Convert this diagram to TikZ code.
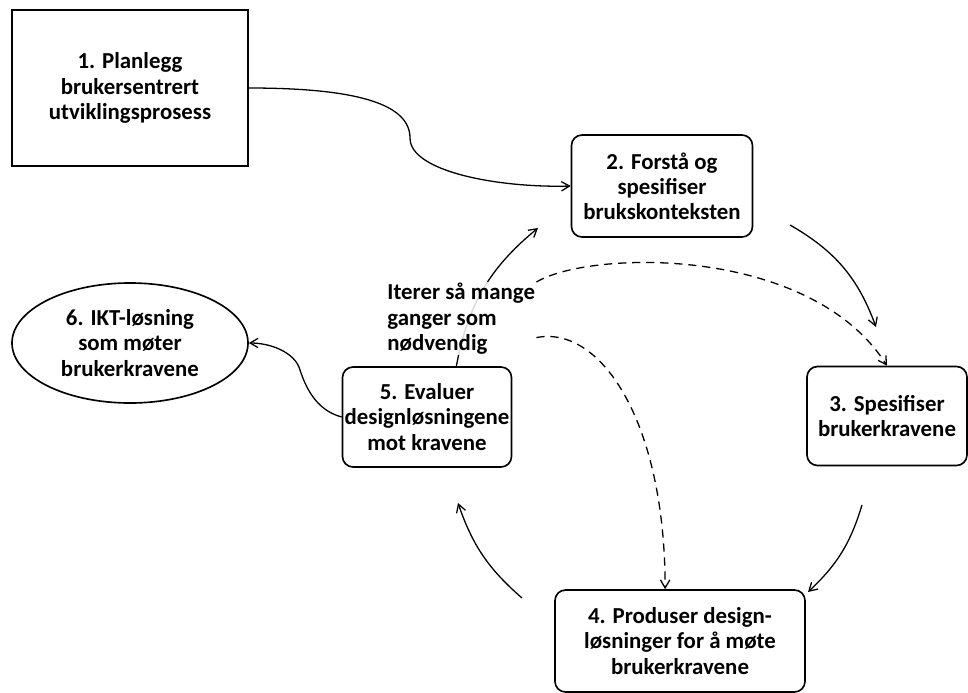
\documentclass[tikz,border=0pt]{standalone}
\usepackage{fontspec}
\setmainfont{Carlito}
\usetikzlibrary{arrows.meta,shapes.geometric}

\begin{document}
\begin{tikzpicture}[x=0.03cm,y=-0.03cm,
 font=\bfseries\fontsize{19.5}{21.5}\selectfont,
 planbox/.style={draw,line width=1.4pt,align=center,inner sep=0pt},
 phase/.style={draw,rounded corners=9pt,line width=1.4pt,align=center,inner sep=0pt},
 flow/.style={-{Straight Barb[length=2.4mm,width=2.8mm]},line width=1.1pt},
 iter/.style={flow,dash pattern=on 7pt off 5pt}]
\useasboundingbox (0,0) rectangle (968,693);
% phases of the cycle
\node[planbox,minimum width=7.08cm,minimum height=4.68cm] (plan) at (130,88) {1. Planlegg\\brukersentrert\\utviklingsprosess};
\node[phase,minimum width=5.43cm,minimum height=3.06cm] (ctx) at (662,186) {2. Forstå og\\spesifiser\\brukskonteksten};
\node[phase,minimum width=4.8cm,minimum height=2.97cm] (req) at (887,416) {3. Spesifiser\\brukerkravene};
\node[phase,minimum width=7.5cm,minimum height=3.06cm] (prod) at (680,641) {4. Produser design-\\løsninger for å møte\\brukerkravene};
\node[phase,minimum width=5.07cm,minimum height=3.0cm] (eval) at (427,417) {5. Evaluer\\designløsningene\\mot kravene};
\node[ellipse,draw,line width=1.4pt,minimum width=7.08cm,minimum height=3.6cm,align=center,inner sep=0pt] (sol) at (130,343) {6. IKT-løsning\\som møter\\brukerkravene};
% free ends of the cycle arrows
\coordinate (c2a) at (790,225); \coordinate (c3b) at (876,327);
\coordinate (c3a) at (862,505); \coordinate (c4b) at (808,592);
\coordinate (c4a) at (522,598); \coordinate (c5b) at (458,503);
\coordinate (c2b) at (538,228);
\draw[flow] (plan.east) .. controls (360,88) and (410,105) .. (410,138) .. controls (410,172) and (500,188) .. (ctx.west);
\draw[flow] (c2a) to[bend left=20] (c3b);
\draw[flow] (c3a) to[bend left=15] (c4b);
\draw[flow] (c4a) to[bend left=15] (c5b);
\draw[flow] (eval.60) to[bend left=20] (c2b);
\draw[flow] (eval.west) .. controls (315,410) and (305,385) .. (300,370) .. controls (295,352) and (270,343) .. (sol.east);
% iteration label
\node[fill=white,fill opacity=0.85,text opacity=1,align=left,anchor=north west,inner sep=1pt] (iterlbl) at (386,282) {Iterer så mange\\ganger som\\nødvendig};
\draw[iter] (iterlbl.north east) .. controls (590,250) and (810,245) .. (req.north);
\draw[iter] (iterlbl.-14) .. controls (600,325) and (665,420) .. (prod.106);
\end{tikzpicture}
\end{document}
